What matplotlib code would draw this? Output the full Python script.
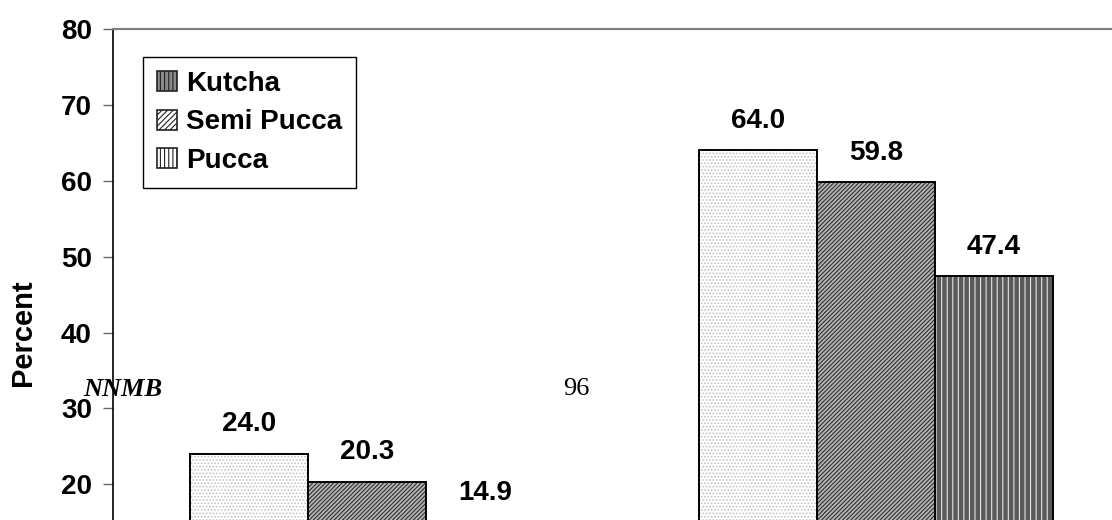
import matplotlib
matplotlib.use("Agg")
import matplotlib.pyplot as plt
from matplotlib.patches import Patch
import numpy as np

plt.rcParams['font.family'] = ['Liberation Sans', 'DejaVu Sans']
plt.rcParams['hatch.linewidth'] = 0.8

groups = ["Group 1", "Group 2"]
series = ["Kutcha", "Semi Pucca", "Pucca"]
values = {
    "Kutcha": [24.0, 64.0],
    "Semi Pucca": [20.3, 59.8],
    "Pucca": [14.9, 47.4],
}
yticks = [20, 30, 40, 50, 60, 70, 80]

# bar styles: (facecolor, hatch, hatchcolor)
styles = {
    "Kutcha": ("#ffffff", ".....", "#c4c4c4"),
    "Semi Pucca": ("#b4b4b4", "////////", "#303030"),
    "Pucca": ("#5a5a5a", "|||", "#e6e6e6"),
}

W, H = 1112, 520
fig = plt.figure(figsize=(W / 100, H / 100), dpi=100)
ax_left = 113 / W
ax_right = 1130 / W
y80 = 1 - 29 / H
y0 = 1 - 636 / H
ax = fig.add_axes([ax_left, y0, ax_right - ax_left, y80 - y0])

x = np.arange(len(groups))
bw = 0.232
offsets = [-bw, 0, bw]
for s, off in zip(series, offsets):
    fc, hatch, hc = styles[s]
    ax.bar(x + off, values[s], width=bw, facecolor=fc, hatch=hatch,
           edgecolor=hc, linewidth=0, zorder=2)
    ax.bar(x + off, values[s], width=bw, facecolor="none",
           edgecolor="black", linewidth=1.4, zorder=3)
    for xi, v in zip(x + off, values[s]):
        ax.annotate(f"{v:.1f}", (xi, v), xytext=(0, 12), textcoords="offset points",
                    ha="center", va="bottom", fontsize=20, fontweight="bold")

ax.set_xlim(-0.5, 1.5)
ax.set_ylim(0, 80)
ax.set_yticks(yticks)
ax.set_yticklabels([str(t) for t in yticks], fontsize=20, fontweight="bold")
ax.set_xticks([])
ax.tick_params(axis="y", direction="out", length=7.2, width=1, color="#666666", pad=8)
for sp in ["right", "bottom"]:
    ax.spines[sp].set_visible(False)
ax.spines["top"].set_color("#808080")
ax.spines["top"].set_linewidth(1.6)
ax.spines["left"].set_color("black")
ax.spines["left"].set_linewidth(1.2)
ax.set_ylabel("Percent", fontsize=21, fontweight="bold", labelpad=17)

# legend
handles = [
    Patch(facecolor="#8a8a8a", edgecolor="#222222", hatch="||||", linewidth=1.2),
    Patch(facecolor="#ffffff", edgecolor="#222222", hatch="//////", linewidth=1.2),
    Patch(facecolor="#ffffff", edgecolor="#222222", hatch="||||", linewidth=1.2),
]
leg = fig.legend(handles, series, loc="upper left",
                 bbox_to_anchor=(143 / W, 1 - 57 / H),
                 prop={"weight": "bold", "size": 20},
                 frameon=True, fancybox=False, edgecolor="black", framealpha=1,
                 handlelength=0.72, handleheight=0.72, handletextpad=0.33,
                 labelspacing=0.45, borderpad=0.5, borderaxespad=0)
leg.get_frame().set_linewidth(1.0)

# stray page texts
fig.text(83 / W, 1 - 390 / H, "NNMB", fontsize=19, fontweight="bold", fontstyle="italic",
         family=["Liberation Serif", "DejaVu Serif"], ha="left", va="center")
fig.text(576 / W, 1 - 389 / H, "96", fontsize=19,
         family=["Liberation Serif", "DejaVu Serif"], ha="center", va="center")

fig.savefig("out.png", dpi=100)
